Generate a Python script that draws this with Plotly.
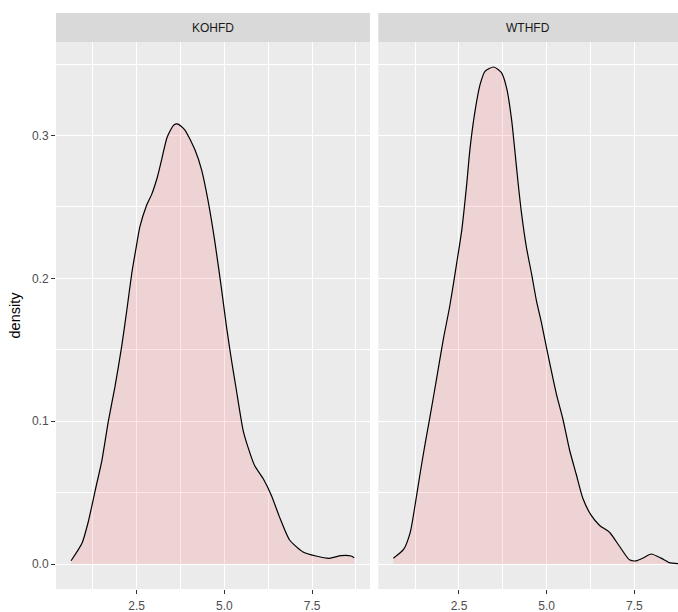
import plotly.graph_objects as go

# ---- data ----
panels = ["KOHFD", "WTHFD"]

kohfd_x = [0.63, 0.94, 1.12, 1.32, 1.51, 1.69, 1.88, 2.07, 2.22, 2.36, 2.48, 2.59, 2.78, 2.93,
           3.09, 3.21, 3.37, 3.56, 3.68, 3.87, 4.16, 4.35, 4.53, 4.72, 4.91, 5.06, 5.20, 5.34,
           5.53, 5.67, 5.86, 6.10, 6.34, 6.57, 6.86, 7.23, 7.61, 7.99, 8.32, 8.61, 8.70]
kohfd_y = [0.0023, 0.0145, 0.0296, 0.0518, 0.0728, 0.0997, 0.124, 0.152, 0.178, 0.2036, 0.221,
           0.236, 0.251, 0.259, 0.271, 0.283, 0.299, 0.3074, 0.308, 0.304, 0.290, 0.276, 0.255,
           0.227, 0.194, 0.166, 0.143, 0.122, 0.094, 0.082, 0.069, 0.060, 0.048, 0.033, 0.0168,
           0.0086, 0.0056, 0.0040, 0.0058, 0.0056, 0.0044]

wthfd_x = [0.63, 0.92, 1.11, 1.25, 1.39, 1.54, 1.68, 1.87, 2.05, 2.24, 2.43, 2.58, 2.72, 2.81,
           2.95, 3.10, 3.24, 3.49, 3.71, 3.86, 4.00, 4.09, 4.18, 4.28, 4.42, 4.57, 4.71, 4.85,
           4.99, 5.13, 5.28, 5.46, 5.65, 5.84, 6.03, 6.27, 6.51, 6.79, 7.07, 7.36, 7.55, 7.78,
           7.98, 8.26, 8.49, 8.75]
wthfd_y = [0.0041, 0.0102, 0.0222, 0.0415, 0.0632, 0.085, 0.104, 0.131, 0.157, 0.181, 0.210,
           0.234, 0.266, 0.290, 0.316, 0.3356, 0.345, 0.348, 0.344, 0.333, 0.311, 0.290, 0.268,
           0.246, 0.222, 0.203, 0.184, 0.169, 0.152, 0.1355, 0.1186, 0.1017, 0.080, 0.063,
           0.046, 0.034, 0.027, 0.0222, 0.0126, 0.0029, 0.0022, 0.0046, 0.0070, 0.0041, 0.001,
           0.0003]

x_ticks = [2.5, 5.0, 7.5]
x_tick_labels = ["2.5", "5.0", "7.5"]
x_minor = [1.25, 3.75, 6.25, 8.75]
y_ticks = [0.0, 0.1, 0.2, 0.3]
y_tick_labels = ["0.0", "0.1", "0.2", "0.3"]
y_minor = [0.05, 0.15, 0.25, 0.35]
y_label = "density"

# ---- layout geometry ----
W, H = 678, 612
FONT = "Liberation Sans, Arial, sans-serif"
left_dom = [56 / W, 370 / W]
right_dom = [378.3 / W, 1.0]
y_dom = [(H - 589) / H, (H - 42) / H]
strip_top = (H - 13) / H

fig = go.Figure()
series = [(kohfd_x, kohfd_y, "x", "y"), (wthfd_x, wthfd_y, "x2", "y2")]
for (xs, ys, xa, ya), name in zip(series, panels):
    fig.add_trace(go.Scatter(
        x=xs, y=ys, xaxis=xa, yaxis=ya, mode="lines", name=name,
        line=dict(color="black", width=1.2, shape="spline", smoothing=0.6),
        fill="tozeroy", fillcolor="rgba(255,0,0,0.1)", showlegend=False,
    ))

xcommon = dict(
    tickvals=x_ticks, ticktext=x_tick_labels, showgrid=True, gridcolor="white", gridwidth=1.1,
    zeroline=False, showline=False, ticks="outside", ticklen=4, tickwidth=1.1, tickcolor="#333333",
    tickfont=dict(family=FONT, size=12, color="#4D4D4D"), ticklabelstandoff=2,
    minor=dict(tickvals=x_minor, showgrid=True, gridcolor="white", gridwidth=0.55, ticks=""),
)
ycommon = dict(
    range=[-0.0175, 0.3655], tickvals=y_ticks, ticktext=y_tick_labels, showgrid=True,
    gridcolor="white", gridwidth=1.1, zeroline=False, showline=False,
    minor=dict(tickvals=y_minor, showgrid=True, gridcolor="white", gridwidth=0.55, ticks=""),
    domain=y_dom,
)

fig.update_layout(
    width=W, height=H, margin=dict(l=0, r=0, t=0, b=0),
    paper_bgcolor="white", plot_bgcolor="#EBEBEB",
    xaxis=dict(domain=left_dom, range=[0.2, 9.15], anchor="y", **xcommon),
    xaxis2=dict(domain=right_dom, range=[0.2, 0.2 + (9.15 - 0.2) * (W - 378.3) / (370 - 56)],
                anchor="y2", **xcommon),
    yaxis=dict(anchor="x", ticks="outside", ticklen=4, tickwidth=1.1, tickcolor="#333333",
               tickfont=dict(family=FONT, size=12, color="#4D4D4D"), **ycommon),
    yaxis2=dict(anchor="x2", matches="y", showticklabels=False, ticks="", **ycommon),
)

# facet strips
for dom, name in zip([left_dom, right_dom], panels):
    fig.add_shape(type="rect", xref="paper", yref="paper", x0=dom[0], x1=dom[1],
                  y0=y_dom[1], y1=strip_top, fillcolor="#D9D9D9", line=dict(width=0), layer="below")
    fig.add_annotation(xref="paper", yref="paper", x=(dom[0] + dom[1]) / 2,
                       y=(y_dom[1] + strip_top) / 2, text=name, showarrow=False,
                       font=dict(family=FONT, size=12, color="#1A1A1A"),
                       xanchor="center", yanchor="middle")

fig.add_annotation(xref="paper", yref="paper", x=15 / W, y=(y_dom[0] + y_dom[1]) / 2,
                   text=y_label, textangle=-90, showarrow=False,
                   font=dict(family=FONT, size=14.5, color="black"),
                   xanchor="center", yanchor="middle")

fig.write_html(
    "out.html",
    config={"displayModeBar": False},
    post_script="document.body.style.margin='0';document.body.style.overflow='hidden';",
)
